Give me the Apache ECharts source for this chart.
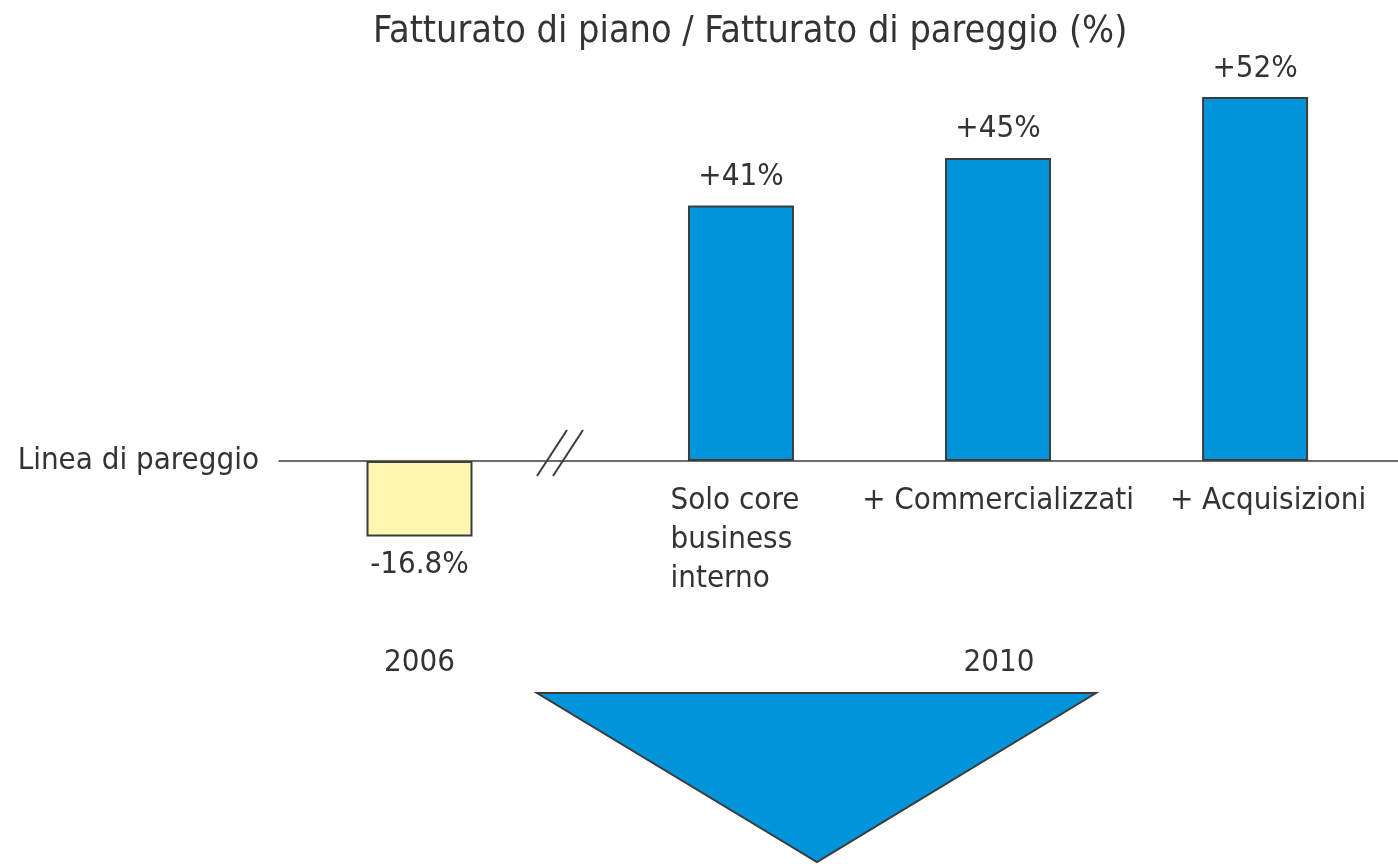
<!DOCTYPE html>
<html>
<head>
<meta charset="utf-8">
<script src="https://cdn.jsdelivr.net/npm/echarts@6/dist/echarts.min.js"></script>
<style>
  html, body { margin: 0; padding: 0; background: #fff; }
  #chart { width: 1398px; height: 864px; }
</style>
</head>
<body>
<div id="chart"></div>
<script>
// bars are not drawn to scale in the source, so heights are read off the picture
// (units: the +52% bar = 52), printed values kept as labels
const period2006 = ["2006"];
const heights2006 = [-10.8];
const labels2006 = ["-16.8%"];

const period2010 = "2010";
const scenarios2010 = ["Solo core\nbusiness\ninterno", "+ Commercializzati", "+ Acquisizioni"];
const heights2010 = [36.5, 43.3, 52];
const labels2010 = ["+41%", "+45%", "+52%"];

const zeroLineName = "Linea di pareggio";

const font = "'DejaVu Sans Condensed', 'DejaVu Sans', sans-serif";
const fs = 31;
const textColor = "#333333";
const edgeColor = "#3c3c3c";

const chart = echarts.init(document.getElementById("chart"));

const hideAxis = {
  axisTick: { show: false },
  splitLine: { show: false },
};

const option = {
  animation: false,
  backgroundColor: "#fff",
  textStyle: { fontFamily: font, color: textColor },
  title: {
    text: "Fatturato di piano / Fatturato di pareggio (%)",
    left: 368,
    top: 8,
    textStyle: { fontFamily: font, fontSize: 37.5, fontWeight: "normal", color: textColor },
  },
  grid: [
    { left: 279, width: 281, top: 41, bottom: 263 },
    { left: 560, right: 0, top: 41, bottom: 263 },
  ],
  xAxis: [
    {
      type: "category",
      gridIndex: 0,
      data: period2006,
      ...hideAxis,
      axisLine: { lineStyle: { color: edgeColor, width: 1.5 } },
      axisLabel: { show: false },
      name: period2006[0],
      nameLocation: "middle",
      nameGap: 46,
      nameTextStyle: { fontFamily: font, fontSize: fs, color: textColor },
    },
    {
      type: "value",
      gridIndex: 1,
      min: -0.704,
      max: 2.556,
      ...hideAxis,
      axisLine: { lineStyle: { color: edgeColor, width: 1.5 } },
      axisLabel: {
        customValues: scenarios2010.map((c, i) => i),
        margin: -120,
        formatter: (v) => {
          const lines = scenarios2010[v].split("\n");
          const tag = lines.length > 1 ? "l" : v === scenarios2010.length - 1 ? "r" : "c";
          return lines.map((s) => "{" + tag + "|" + s + "}").join("\n");
        },
        rich: {
          l: { align: "left", fontFamily: font, fontSize: fs, lineHeight: 39, color: textColor, padding: [0, 12, 0, 0] },
          c: { fontFamily: font, fontSize: fs, lineHeight: 39, color: textColor },
          r: { fontFamily: font, fontSize: fs, lineHeight: 39, color: textColor, padding: [0, 0, 0, 26] },
        },
      },
      name: period2010,
      nameLocation: "middle",
      nameGap: 46,
      nameTextStyle: { fontFamily: font, fontSize: fs, color: textColor, padding: [0, 0, 0, 40] },
    },
  ],
  yAxis: [
    {
      type: "value",
      gridIndex: 0,
      min: -20,
      max: 60,
      ...hideAxis,
      axisLine: { show: false },
      axisLabel: {
        customValues: [0],
        margin: 20,
        formatter: () => zeroLineName,
        fontFamily: font,
        fontSize: fs,
        color: textColor,
      },
    },
    {
      type: "value",
      gridIndex: 1,
      min: -20,
      max: 60,
      show: false,
    },
  ],
  series: [
    {
      type: "bar",
      xAxisIndex: 0,
      yAxisIndex: 0,
      barWidth: 106,
      data: heights2006,
      itemStyle: { color: "#FFF7B0", borderColor: edgeColor, borderWidth: 2 },
      label: {
        show: true,
        position: "bottom",
        distance: 13,
        formatter: (p) => labels2006[p.dataIndex],
        fontFamily: font,
        fontSize: fs,
        color: textColor,
      },
    },
    {
      type: "bar",
      xAxisIndex: 1,
      yAxisIndex: 1,
      barWidth: 106,
      data: heights2010.map((h, i) => [i, h]),
      itemStyle: { color: "#0095DA", borderColor: edgeColor, borderWidth: 2 },
      label: {
        show: true,
        position: "top",
        distance: 13,
        formatter: (p) => labels2010[p.dataIndex],
        fontFamily: font,
        fontSize: fs,
        color: textColor,
      },
    },
  ],
  graphic: [
    // axis break mark
    { type: "line", shape: { x1: 537, y1: 476, x2: 567, y2: 430 }, style: { stroke: edgeColor, lineWidth: 2 } },
    { type: "line", shape: { x1: 553, y1: 476, x2: 583, y2: 430 }, style: { stroke: edgeColor, lineWidth: 2 } },
    // down arrow
    {
      type: "polygon",
      shape: { points: [[537, 693], [1096, 693], [817, 862]] },
      style: { fill: "#0095DA", stroke: edgeColor, lineWidth: 2 },
    },
  ],
};

chart.setOption(option);
</script>
</body>
</html>
